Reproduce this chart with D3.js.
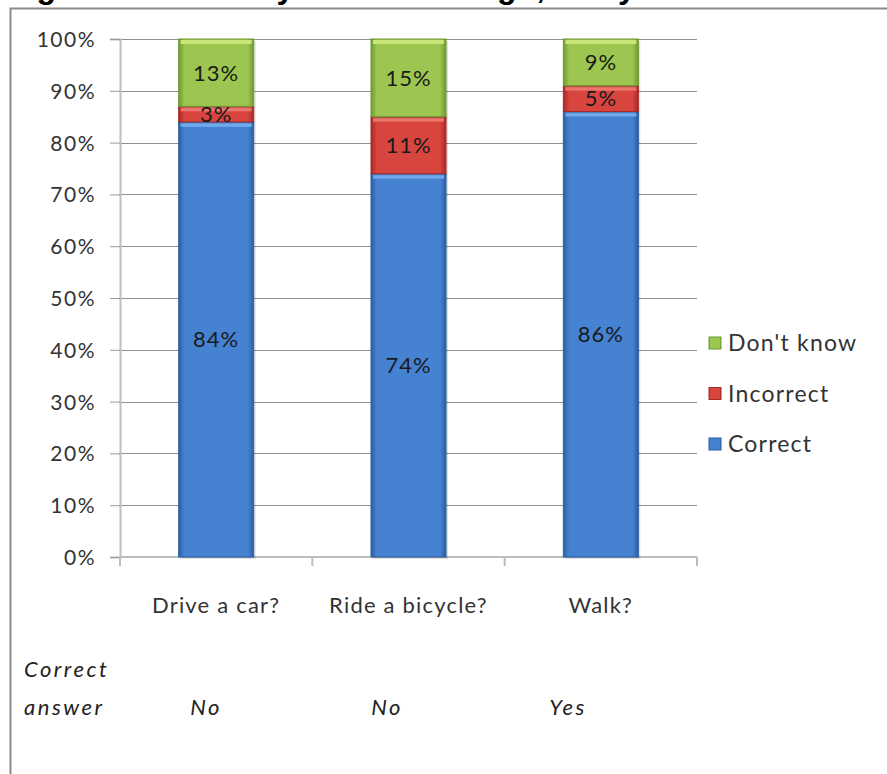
<!DOCTYPE html>
<html>
<head>
<meta charset="utf-8">
<script src="https://cdn.jsdelivr.net/npm/d3@7"></script>
<style>
  body { margin: 0; background: #fff; }
  svg { display: block; }
  .g-tick text, .g-cat, .g-legend text { font-family: Lato, "Open Sans", sans-serif; fill: #333; }
  .g-val { font-family: Lato, "Open Sans", sans-serif; fill: #1a1a1a; font-size: 22px; letter-spacing: 1px; }
  .g-note { font-family: Lato, "Open Sans", sans-serif; font-style: italic; fill: #222; font-size: 22px; letter-spacing: 2.5px; }
</style>
</head>
<body>
<div class="g-chart"></div>
<script>
//Local data
var categories = ["Drive a car?", "Ride a bicycle?", "Walk?"];
var seriesNames = ["Correct", "Incorrect", "Don't know"];
var correct = [84, 74, 86];
var incorrect = [3, 11, 5];
var dontKnow = [13, 15, 9];
var answers = ["No", "No", "Yes"];
var yTicks = [0, 10, 20, 30, 40, 50, 60, 70, 80, 90, 100];

//Chart title (cut off at the top of the picture)
var headline = "Figure 30: Where you see this sign, can you";

var width = 887, height = 774;

//Plot area
var plot = {top: 39, bottom: 557, left: 120, right: 697};

var colors = {
  "Correct":    {mid: "#4682d2", edge: "#2c5fa3", top: "#74aef0"},
  "Incorrect":  {mid: "#d8453f", edge: "#a82a27", top: "#f07a70"},
  "Don't know": {mid: "#9dc650", edge: "#6f9a30", top: "#cfe97f"}
};

//Appends the svg
var svg = d3.select(".g-chart").append("svg")
  .attr("width", width)
  .attr("height", height);

//Gradients for the bevelled bars
var defs = svg.append("defs");
seriesNames.forEach(function(s, i) {
  var g = defs.append("linearGradient")
    .attr("id", "grad" + i)
    .attr("x1", 0).attr("x2", 1).attr("y1", 0).attr("y2", 0);
  g.append("stop").attr("offset", "0%").attr("stop-color", colors[s].edge);
  g.append("stop").attr("offset", "8%").attr("stop-color", colors[s].mid);
  g.append("stop").attr("offset", "92%").attr("stop-color", colors[s].mid);
  g.append("stop").attr("offset", "100%").attr("stop-color", colors[s].edge);
});

//Title, clipped by the top of the page like in the original
svg.append("text")
  .attr("x", 8)
  .attr("y", -2)
  .style("font-family", "'Liberation Sans', Arial, sans-serif")
  .style("font-weight", "bold")
  .style("font-size", "32px")
  .style("fill", "#000")
  .text(headline);

//Chart frame
svg.append("path")
  .attr("d", "M10.5," + height + "V8.5H" + width)
  .attr("fill", "none")
  .attr("stroke", "#8a8a8a")
  .attr("stroke-width", 2);

//Scales
var y = d3.scaleLinear()
  .domain([0, 100])
  .range([plot.bottom, plot.top]);

var x = d3.scaleBand()
  .domain(categories)
  .range([plot.left, plot.right])
  .paddingInner(0.61)
  .paddingOuter(0.305);

var answerX = d3.scalePoint()
  .domain(categories)
  .range([206, 568]);

//Gridlines
svg.append("g")
  .selectAll("line")
  .data(yTicks.filter(function(d) { return d > 0; }))
  .enter().append("line")
  .attr("x1", plot.left)
  .attr("x2", plot.right)
  .attr("y1", function(d) { return Math.round(y(d)) + 0.5; })
  .attr("y2", function(d) { return Math.round(y(d)) + 0.5; })
  .attr("stroke", "#8f8f8f")
  .attr("stroke-width", 1);

//Y axis
var yAxis = d3.axisLeft(y)
  .tickValues(yTicks)
  .tickSize(10)
  .tickPadding(14)
  .tickFormat(function(d) { return d + "%"; });

var yAxisGroup = svg.append("g")
  .attr("class", "g-tick")
  .attr("transform", "translate(" + plot.left + ",0)")
  .call(yAxis);

yAxisGroup.select(".domain").attr("stroke", "#bdbdbd").attr("stroke-width", 2);
yAxisGroup.selectAll(".tick line").attr("stroke", "#9a9a9a");
yAxisGroup.selectAll("text")
  .style("font-size", "21px")
  .style("letter-spacing", "1.5px")
  .attr("dy", "0.36em");

//X axis with boundary ticks
var xAxisGroup = svg.append("g")
  .attr("transform", "translate(0," + plot.bottom + ")");

xAxisGroup.append("line")
  .attr("x1", plot.left)
  .attr("x2", plot.right)
  .attr("stroke", "#bdbdbd")
  .attr("stroke-width", 2);

var bounds = categories.map(function(c) { return x(c) - x.step() * x.paddingOuter(); });
bounds.push(plot.right);

xAxisGroup.selectAll(".g-xtick")
  .data(bounds)
  .enter().append("line")
  .attr("class", "g-xtick")
  .attr("x1", function(d) { return d; })
  .attr("x2", function(d) { return d; })
  .attr("y1", 0)
  .attr("y2", 9)
  .attr("stroke", "#bdbdbd")
  .attr("stroke-width", 2);

//Category labels
svg.selectAll(".g-cat")
  .data(categories)
  .enter().append("text")
  .attr("class", "g-cat")
  .attr("x", function(d) { return x(d) + x.bandwidth() / 2; })
  .attr("y", 613)
  .attr("text-anchor", "middle")
  .style("font-size", "22px")
  .style("letter-spacing", "1.2px")
  .text(function(d) { return d; });

//Stack the series
var table = categories.map(function(c, i) {
  return {category: c, "Correct": correct[i], "Incorrect": incorrect[i], "Don't know": dontKnow[i]};
});

var stacked = d3.stack().keys(seriesNames)(table);

var layer = svg.selectAll(".g-layer")
  .data(stacked)
  .enter().append("g")
  .attr("class", "g-layer");

//Shadow
layer.selectAll(".g-shadow")
  .data(function(d) { return d; })
  .enter().append("rect")
  .attr("x", function(d) { return x(d.data.category) + 2; })
  .attr("y", function(d) { return y(d[1]) + 2; })
  .attr("width", x.bandwidth())
  .attr("height", function(d) { return y(d[0]) - y(d[1]); })
  .attr("fill", "#000")
  .attr("opacity", 0.12);

//Bars
layer.each(function(s, i) {
  var sel = d3.select(this).selectAll(".g-bar")
    .data(s)
    .enter();

  sel.append("rect")
    .attr("class", "g-bar")
    .attr("x", function(d) { return x(d.data.category); })
    .attr("y", function(d) { return y(d[1]); })
    .attr("width", x.bandwidth())
    .attr("height", function(d) { return y(d[0]) - y(d[1]); })
    .attr("fill", "url(#grad" + i + ")")
    .attr("stroke", colors[s.key].edge)
    .attr("stroke-width", 1);

  //Top highlight strip
  sel.append("rect")
    .attr("x", function(d) { return x(d.data.category) + 2; })
    .attr("y", function(d) { return y(d[1]) + 1; })
    .attr("width", x.bandwidth() - 4)
    .attr("height", 4)
    .attr("fill", colors[s.key].top)
    .attr("opacity", 0.9);
});

//Value labels
layer.selectAll(".g-val")
  .data(function(d) { return d; })
  .enter().append("text")
  .attr("class", "g-val")
  .attr("x", function(d) { return x(d.data.category) + x.bandwidth() / 2; })
  .attr("y", function(d) { return (y(d[0]) + y(d[1])) / 2; })
  .attr("dy", "0.36em")
  .attr("text-anchor", "middle")
  .text(function(d) { return (d[1] - d[0]) + "%"; });

//Legend
var legend = svg.append("g")
  .attr("class", "g-legend")
  .attr("transform", "translate(709,0)");

var legendY = d3.scalePoint()
  .domain(seriesNames.slice().reverse())
  .range([343, 444]);

var legendItem = legend.selectAll("g")
  .data(seriesNames)
  .enter().append("g")
  .attr("transform", function(d) { return "translate(0," + legendY(d) + ")"; });

legendItem.append("rect")
  .attr("x", 0)
  .attr("y", -6)
  .attr("width", 12)
  .attr("height", 12)
  .attr("fill", function(d, i) { return "url(#grad" + i + ")"; })
  .attr("stroke", function(d) { return colors[d].edge; });

legendItem.append("text")
  .attr("x", 19)
  .attr("dy", "0.36em")
  .style("font-size", "23px")
  .style("letter-spacing", "1.2px")
  .text(function(d) { return d; });

//Correct answer row
svg.append("text")
  .attr("class", "g-note")
  .attr("x", 24)
  .attr("y", 677)
  .text("Correct");

svg.append("text")
  .attr("class", "g-note")
  .attr("x", 24)
  .attr("y", 715)
  .text("answer");

svg.selectAll(".g-answer")
  .data(answers)
  .enter().append("text")
  .attr("class", "g-note g-answer")
  .attr("x", function(d, i) { return answerX(categories[i]); })
  .attr("y", 715)
  .attr("text-anchor", "middle")
  .text(function(d) { return d; });
</script>
</body>
</html>
